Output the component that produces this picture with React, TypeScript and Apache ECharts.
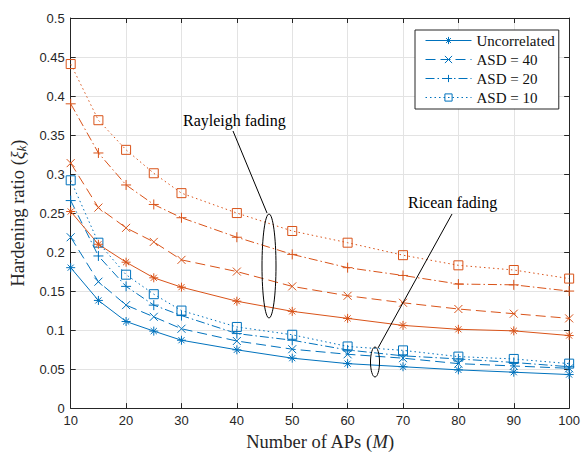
import React, { useEffect, useRef } from "react";
import * as echarts from "echarts";

const apCounts = [10, 15, 20, 25, 30, 40, 50, 60, 70, 80, 90, 100];

const riceanUncorrelated = [0.180, 0.138, 0.111, 0.0987, 0.087, 0.0747, 0.064, 0.057, 0.053, 0.049, 0.046, 0.043];
const riceanAsd40 = [0.219, 0.162, 0.132, 0.117, 0.1017, 0.086, 0.0755, 0.069, 0.064, 0.057, 0.054, 0.051];
const riceanAsd20 = [0.266, 0.195, 0.156, 0.132, 0.1186, 0.0955, 0.087, 0.0745, 0.067, 0.063, 0.0585, 0.053];
const riceanAsd10 = [0.292, 0.212, 0.171, 0.146, 0.125, 0.104, 0.094, 0.079, 0.074, 0.066, 0.063, 0.057];

const rayleighUncorrelated = [0.252, 0.210, 0.187, 0.167, 0.155, 0.137, 0.124, 0.115, 0.106, 0.101, 0.099, 0.093];
const rayleighAsd40 = [0.314, 0.257, 0.231, 0.213, 0.190, 0.175, 0.156, 0.144, 0.135, 0.127, 0.121, 0.115];
const rayleighAsd20 = [0.390, 0.327, 0.286, 0.261, 0.244, 0.219, 0.197, 0.180, 0.170, 0.159, 0.158, 0.150];
const rayleighAsd10 = [0.441, 0.369, 0.331, 0.301, 0.2755, 0.250, 0.227, 0.212, 0.196, 0.183, 0.177, 0.166];

const legendNames = ["Uncorrelated", "ASD = 40", "ASD = 20", "ASD = 10"];

const BLUE = "#0072BD";
const ORANGE = "#D95319";
const AXIS = "#262626";
const SERIF = "'Liberation Serif', 'Times New Roman', serif";
const SANS = "'Liberation Sans', Arial, Helvetica, sans-serif";

const SYM_AST = "path://M5,0L5,10M0,5L10,5M1.6,1.6L8.4,8.4M1.6,8.4L8.4,1.6";
const SYM_X = "path://M0,0L10,10M0,10L10,0";
const SYM_PLUS = "path://M5,0L5,10M0,5L10,5";

type Style = { symbol: string; size: number; dash: any };
const styles: Style[] = [
  { symbol: SYM_AST, size: 9, dash: "solid" },
  { symbol: SYM_X, size: 8, dash: [10, 5] },
  { symbol: SYM_PLUS, size: 10, dash: [9, 3, 1.5, 3] },
  { symbol: "rect", size: 9, dash: [1.5, 3] },
];

function makeSeries(name: string, values: number[], color: string, st: Style) {
  return {
    type: "line",
    name,
    data: apCounts.map((x, i) => [x, values[i]]),
    symbol: st.symbol,
    symbolSize: st.size,
    showAllSymbol: true,
    lineStyle: { color, width: 1, type: st.dash },
    itemStyle: { color: "rgba(255,255,255,0)", borderColor: color, borderWidth: 1 },
    emphasis: { disabled: true },
    z: 3,
  };
}

export default function App() {
  const ref = useRef<HTMLDivElement>(null);
  useEffect(() => {
    if (!ref.current) return;
    const chart = echarts.init(ref.current, undefined, { renderer: "svg" });
    const rayleighNames = ["Rayleigh uncorrelated", "Rayleigh ASD 40", "Rayleigh ASD 20", "Rayleigh ASD 10"];
    const ricean = [riceanUncorrelated, riceanAsd40, riceanAsd20, riceanAsd10];
    const rayleigh = [rayleighUncorrelated, rayleighAsd40, rayleighAsd20, rayleighAsd10];
    const series: any[] = [];
    ricean.forEach((v, i) => series.push(makeSeries(legendNames[i], v, BLUE, styles[i])));
    rayleigh.forEach((v, i) => series.push(makeSeries(rayleighNames[i], v, ORANGE, styles[i])));

    const axisCommon = {
      axisLine: { show: true, onZero: false, lineStyle: { color: AXIS, width: 1 } },
      axisTick: { show: true, inside: true, length: 5, lineStyle: { color: AXIS } },
    };

    chart.setOption({
      animation: false,
      grid: { left: 69, right: 13.5, top: 18, bottom: 43, containLabel: false },
      legend: {
        data: legendNames,
        orient: "vertical",
        left: 415,
        top: 30,
        backgroundColor: "#ffffff",
        borderColor: AXIS,
        borderWidth: 1,
        borderRadius: 0,
        padding: [3, 4, 4, 10],
        itemWidth: 46,
        itemHeight: 9,
        itemGap: 4,
        symbolRotate: 0,
        lineStyle: { width: 1 },
        itemStyle: { borderWidth: 1, color: "rgba(255,255,255,0)" },
        textStyle: { fontFamily: SERIF, fontSize: 15, fontWeight: "normal", color: "#111" },
        selectedMode: false,
      },
      xAxis: [
        {
          type: "value",
          min: 10,
          max: 100,
          interval: 10,
          ...axisCommon,
          axisLabel: { fontFamily: SANS, fontSize: 13, color: AXIS, margin: 6 },
          splitLine: { show: true, lineStyle: { color: "#e3e3e3", width: 1 } },
          name: "{a|Number of APs (}{b|M}{a|)}",
          nameLocation: "middle",
          nameGap: 20,
          nameTextStyle: {
            rich: {
              a: { fontFamily: SERIF, fontSize: 18.5, color: AXIS },
              b: { fontFamily: SERIF, fontSize: 18.5, fontStyle: "italic", color: AXIS },
            },
          },
        },
        {
          type: "value",
          position: "top",
          min: 10,
          max: 100,
          interval: 10,
          ...axisCommon,
          axisLabel: { show: false },
          splitLine: { show: false },
        },
      ],
      yAxis: [
        {
          type: "value",
          min: 0,
          max: 0.5,
          interval: 0.05,
          ...axisCommon,
          axisLabel: { fontFamily: SANS, fontSize: 13, color: AXIS, margin: 6 },
          splitLine: { show: true, lineStyle: { color: "#e3e3e3", width: 1 } },
          name: "{a|Hardening ratio (}{b|ξ}{c|k}{a|)}",
          nameLocation: "middle",
          nameGap: 40,
          nameTextStyle: {
            rich: {
              a: { fontFamily: SERIF, fontSize: 18.5, color: AXIS },
              b: { fontFamily: SERIF, fontSize: 18.5, fontStyle: "italic", color: AXIS },
              c: { fontFamily: SERIF, fontSize: 12.5, fontStyle: "italic", color: AXIS, padding: [9, 0, 0, 0] },
            },
          },
        },
        {
          type: "value",
          position: "right",
          min: 0,
          max: 0.5,
          interval: 0.05,
          ...axisCommon,
          axisLabel: { show: false },
          splitLine: { show: false },
        },
      ],
      series,
      graphic: [
        {
          type: "text",
          left: 183,
          top: 112,
          z: 10,
          style: { text: "Rayleigh fading", fontFamily: SERIF, fontSize: 16, fill: "#000" },
        },
        {
          type: "line",
          z: 10,
          shape: { x1: 233, y1: 131, x2: 267, y2: 213 },
          style: { stroke: "#000", lineWidth: 1 },
        },
        {
          type: "ellipse",
          z: 10,
          shape: { cx: 269, cy: 266, rx: 7, ry: 52 },
          style: { stroke: "#000", fill: "none", lineWidth: 1 },
        },
        {
          type: "text",
          left: 408,
          top: 194,
          z: 10,
          style: { text: "Ricean fading", fontFamily: SERIF, fontSize: 16, fill: "#000" },
        },
        {
          type: "line",
          z: 10,
          shape: { x1: 452, y1: 214, x2: 378, y2: 348 },
          style: { stroke: "#000", lineWidth: 1 },
        },
        {
          type: "ellipse",
          z: 10,
          shape: { cx: 375, cy: 362, rx: 4.5, ry: 15 },
          style: { stroke: "#000", fill: "none", lineWidth: 1 },
        },
      ],
    });
    return () => chart.dispose();
  }, []);
  return (
    <div
      ref={ref}
      style={{ position: "fixed", left: 0, top: 0, width: 583, height: 456, background: "#fff" }}
    />
  );
}
